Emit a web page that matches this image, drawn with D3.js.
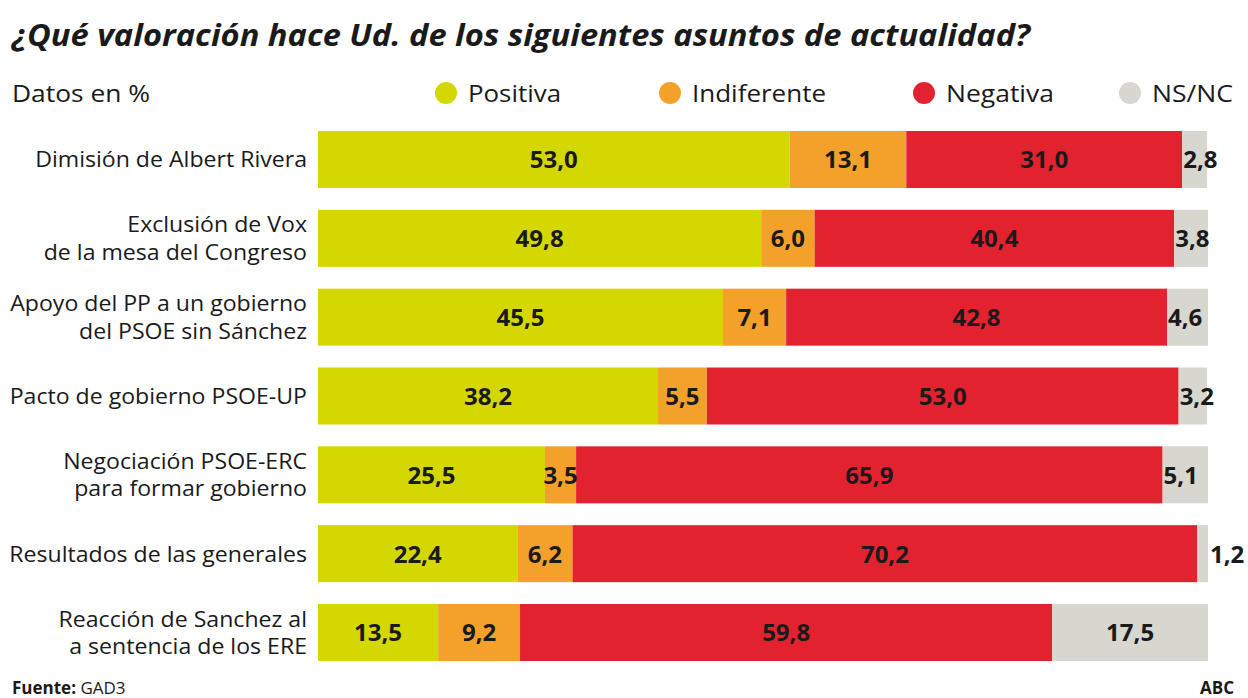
<!DOCTYPE html>
<html><head><meta charset="utf-8">
<script src="https://cdn.jsdelivr.net/npm/d3@7"></script>
<style>
body{margin:0;background:#fff;}
svg{display:block;font-family:"Open Sans","Noto Sans",sans-serif;}
</style></head>
<body><svg id="c" width="1248" height="698"></svg>
<script>
const categories = [
  ["Dimisión de Albert Rivera"],
  ["Exclusión de Vox","de la mesa del Congreso"],
  ["Apoyo del PP a un gobierno","del PSOE sin Sánchez"],
  ["Pacto de gobierno PSOE-UP"],
  ["Negociación PSOE-ERC","para formar gobierno"],
  ["Resultados de las generales"],
  ["Reacción de Sanchez al","a sentencia de los ERE"]
];
const seriesNames = ["Positiva","Indiferente","Negativa","NS/NC"];
const positiva    = [53.0, 49.8, 45.5, 38.2, 25.5, 22.4, 13.5];
const indiferente = [13.1, 6.0, 7.1, 5.5, 3.5, 6.2, 9.2];
const negativa    = [31.0, 40.4, 42.8, 53.0, 65.9, 70.2, 59.8];
const nsnc        = [2.8, 3.8, 4.6, 3.2, 5.1, 1.2, 17.5];
const colors = ["#d4d800","#f4a12b","#e3222f","#d7d7cf"];

const svg = d3.select("#c");
const series = [positiva, indiferente, negativa, nsnc];
const rows = categories.map((c,i)=>({key:i, label:c, vals: series.map(s=>s[i])}));

const x = d3.scaleLinear().domain([0,100]).range([318,1208]);
const y = d3.scaleBand().domain(rows.map(r=>r.key)).range([131,661]).paddingInner(0.277).paddingOuter(0);
const fmt = v => d3.format(".1f")(v).replace(".",",");

// title
svg.append("text").attr("x",12).attr("y",46)
  .attr("font-size",31).attr("font-weight",700).attr("font-style","italic")
  .attr("fill","#1a1a1a").attr("textLength",1018).attr("lengthAdjust","spacingAndGlyphs")
  .text("¿Qué valoración hace Ud. de los siguientes asuntos de actualidad?");

svg.append("text").attr("x",12).attr("y",102).attr("font-size",23).attr("fill","#1a1a1a")
  .attr("textLength",138).attr("lengthAdjust","spacingAndGlyphs").text("Datos en %");

// legend
const legX = [446, 670, 924, 1130];
const legW = [93, 134, 108, 81];
seriesNames.forEach((n,i)=>{
  const g = svg.append("g");
  g.append("circle").attr("cx",legX[i]).attr("cy",93).attr("r",11).attr("fill",colors[i]);
  g.append("text").attr("x",legX[i]+22).attr("y",102).attr("font-size",24).attr("fill","#1a1a1a")
    .attr("textLength",legW[i]).attr("lengthAdjust","spacingAndGlyphs").text(n);
});

// bars
rows.forEach(r=>{
  let cum = 0;
  const g = svg.append("g");
  const cy = y(r.key) + y.bandwidth()/2;
  r.vals.forEach((v,j)=>{
    const x0 = x(cum), x1 = x(cum+v);
    g.append("rect").attr("x",x0).attr("y",y(r.key)).attr("width",x1-x0).attr("height",y.bandwidth()).attr("fill",colors[j]);
    cum += v;
  });
  cum = 0;
  r.vals.forEach((v,j)=>{
    const x0 = x(cum), x1 = x(cum+v);
    let tx = (x0+x1)/2, anchor = "middle";
    if (j===3 && v<10) {
      if (v<2) { tx = x1+2; anchor="start"; }
      else { tx = x0+1; anchor="start"; }
    }
    g.append("text").attr("x",tx).attr("y",cy).attr("dy","0.37em")
      .attr("text-anchor",anchor).attr("font-size",24).attr("font-weight",700)
      .attr("fill","#1a1a1a").text(fmt(v));
    cum += v;
  });
  // label (lines as tspans)
  const lines = r.label;
  const lh = 27.5;
  const t = svg.append("text").attr("text-anchor","end").attr("font-size",22).attr("fill","#1a1a1a")
    .attr("transform","translate(307,0) scale(1.05,1)")
    .style("font-stretch","94%");
  lines.forEach((s,k)=>{
    t.append("tspan").attr("x",0).attr("y",cy + (k-(lines.length-1)/2)*lh).attr("dy","0.36em").text(s);
  });
});

// footer
const f = svg.append("text").attr("x",12).attr("y",694).attr("font-size",17).attr("fill","#1a1a1a");
f.append("tspan").attr("font-weight",700).text("Fuente: ");
f.append("tspan").text("GAD3");
svg.append("text").attr("x",1234).attr("y",694).attr("text-anchor","end").attr("font-size",17)
  .attr("font-weight",700).attr("fill","#1a1a1a").text("ABC");
</script></body></html>
